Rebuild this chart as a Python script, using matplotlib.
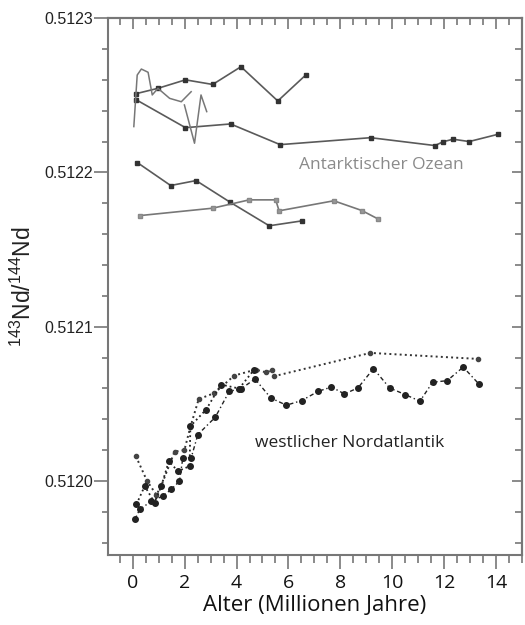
import matplotlib
matplotlib.use("Agg")
import matplotlib.pyplot as plt
from matplotlib.ticker import MultipleLocator, FormatStrFormatter, NullFormatter

plt.rcParams['mathtext.default'] = 'regular'

# ---------------- data ----------------
# Antarctic Ocean series
ant_a_x = [0.12, 0.97, 2.03, 3.08, 4.17, 5.59, 6.66]
ant_a_y = [0.512251, 0.5122545, 0.512260, 0.512257, 0.5122685, 0.5122463, 0.512263]

ant_b_x = [0.14, 2.03, 3.77, 5.68, 9.17, 11.65, 11.97, 12.35, 12.97, 14.08]
ant_b_y = [0.512247, 0.512229, 0.5122314, 0.512218, 0.5122225, 0.5122174, 0.5122199, 0.5122215, 0.512220, 0.5122247]

ant_c_x = [0.18, 1.46, 2.44, 3.75, 5.26, 6.53]
ant_c_y = [0.5122063, 0.5121915, 0.5121947, 0.5121807, 0.5121654, 0.5121686]

ant_d_x = [0.27, 3.08, 4.49, 5.51, 5.64, 7.75, 8.83, 9.47]
ant_d_y = [0.5121720, 0.5121768, 0.5121822, 0.5121822, 0.5121751, 0.5121816, 0.5121753, 0.5121697]

ant_e_x = [0.04, 0.17, 0.33, 0.59, 0.75, 0.97, 1.42, 1.87, 2.25]
ant_e_y = [0.5122297, 0.5122631, 0.5122670, 0.5122649, 0.5122502, 0.5122545, 0.512248, 0.5122458, 0.5122523]

ant_f_x = [1.99, 2.38, 2.63, 2.85]
ant_f_y = [0.5122437, 0.5122189, 0.5122502, 0.5122394]

# Western North Atlantic series
nat_a_x = [0.12, 0.55, 0.91, 1.10, 1.61, 1.99, 2.22, 2.54, 3.15, 3.91, 4.74, 5.13, 5.38, 5.45, 9.16, 13.31]
nat_a_y = [0.512016, 0.512000, 0.511991, 0.511997, 0.512019, 0.512020, 0.512035, 0.512053, 0.512057,
           0.5120683, 0.5120722, 0.5120704, 0.5120717, 0.5120679, 0.512083, 0.5120791]

nat_b_x = [0.08, 0.27, 0.72, 1.16, 1.48, 1.80, 1.93, 2.25, 2.51, 3.18, 3.72, 4.17, 4.71, 5.32, 5.92, 6.51,
           7.15, 7.66, 8.16, 8.68, 9.28, 9.90, 10.50, 11.07, 11.56, 12.12, 12.74, 13.34]
nat_b_y = [0.5119751, 0.5119816, 0.5119869, 0.5119902, 0.5119945, 0.5119999, 0.5120150, 0.5120150,
           0.5120301, 0.5120413, 0.5120581, 0.5120597, 0.5120661, 0.5120538, 0.5120491, 0.5120521,
           0.5120581, 0.5120609, 0.5120564, 0.5120603, 0.5120728, 0.5120603, 0.5120560, 0.5120517,
           0.5120640, 0.5120650, 0.5120738, 0.5120629]

nat_c_x = [0.14, 0.46, 0.84, 1.10, 1.39, 1.74, 2.19, 2.22, 2.83, 3.40, 4.10, 4.68]
nat_c_y = [0.5119848, 0.5119967, 0.5119859, 0.5119967, 0.5120128, 0.5120063, 0.5120096, 0.5120355,
           0.5120463, 0.5120625, 0.5120599, 0.5120722]

x_ticks = [0, 2, 4, 6, 8, 10, 12, 14]
y_ticks = [0.5120, 0.5121, 0.5122, 0.5123]

# ---------------- plot ----------------
fig = plt.figure(figsize=(5.25, 6.25), dpi=100)
ax = fig.add_axes([0.206, 0.112, 0.788, 0.859])

g = '#5a5a5a'
ax.plot(ant_a_x, ant_a_y, '-', color=g, lw=1.2, marker='s', ms=3.5, mfc='#333333', mec='#333333')
ax.plot(ant_b_x, ant_b_y, '-', color=g, lw=1.2, marker='s', ms=3.5, mfc='#333333', mec='#333333')
ax.plot(ant_c_x, ant_c_y, '-', color=g, lw=1.2, marker='s', ms=3.5, mfc='#333333', mec='#333333')
ax.plot(ant_d_x, ant_d_y, '-', color='#777777', lw=1.2, marker='s', ms=3.2, mfc='#999999', mec='#888888')
ax.plot(ant_e_x, ant_e_y, '-', color='#777777', lw=1.1)
ax.plot(ant_f_x, ant_f_y, '-', color='#777777', lw=1.1)

ax.plot(nat_a_x, nat_a_y, ':', color='#333333', lw=1.4, marker='o', ms=3, mfc='#444444', mec='#444444')
ax.plot(nat_b_x, nat_b_y, '-.', color='#222222', lw=1.0, marker='o', ms=4, mfc='#222222', mec='#222222',
        dashes=(3, 2, 1, 2))
ax.plot(nat_c_x, nat_c_y, ':', color='#222222', lw=1.3, marker='o', ms=4, mfc='#222222', mec='#222222')

ax.text(6.4, 0.5122049, 'Antarktischer Ozean', color='#8a8a8a', fontsize=12.5,
        family='Open Sans', va='center', ha='left')
ax.text(4.72, 0.5120249, 'westlicher Nordatlantik', color='#222222', fontsize=12.5,
        family='Open Sans', va='center', ha='left')

ax.set_xlim(-0.95, 15.0)
ax.set_ylim(0.511952, 0.5123)

ax.set_xticks(x_ticks)
ax.set_yticks(y_ticks)
ax.xaxis.set_minor_locator(MultipleLocator(0.5))
ax.yaxis.set_minor_locator(MultipleLocator(0.00002))
ax.yaxis.set_major_formatter(FormatStrFormatter('%.4f'))

for s in ax.spines.values():
    s.set_color('#777777')
    s.set_linewidth(1.5)

tc = '#777777'
ax.tick_params(axis='x', which='both', direction='out', color=tc, width=1.2)
ax.tick_params(axis='x', which='major', length=10, labelsize=14, pad=4)
ax.tick_params(axis='x', which='minor', length=5.5)
ax.tick_params(axis='y', which='both', direction='out', color=tc, width=1.2)
ax.tick_params(axis='y', which='major', length=10, labelsize=11.5, pad=1)
ax.tick_params(axis='y', which='minor', length=4.5)

# inward ticks on top and right
top = ax.secondary_xaxis('top')
top.set_xticks(x_ticks)
top.xaxis.set_minor_locator(MultipleLocator(0.5))
top.xaxis.set_major_formatter(NullFormatter())
top.tick_params(axis='x', which='both', direction='in', color=tc, width=1.2)
top.tick_params(axis='x', which='major', length=8)
top.tick_params(axis='x', which='minor', length=5)
top.spines['top'].set_color(tc)
top.spines['top'].set_linewidth(1.5)

right = ax.secondary_yaxis('right')
right.set_yticks(y_ticks)
right.yaxis.set_minor_locator(MultipleLocator(0.00002))
right.yaxis.set_major_formatter(NullFormatter())
right.tick_params(axis='y', which='both', direction='in', color=tc, width=1.2)
right.tick_params(axis='y', which='major', length=7)
right.tick_params(axis='y', which='minor', length=5)
right.spines['right'].set_color(tc)
right.spines['right'].set_linewidth(1.5)

for lab in ax.get_xticklabels():
    lab.set_family('Open Sans')
    lab.set_color('#111111')
for lab in ax.get_yticklabels():
    lab.set_family('Liberation Sans')
    lab.set_color('#222222')

ax.set_xlabel('Alter (Millionen Jahre)', fontsize=16, family='Open Sans', color='#111111', labelpad=2)
ax.set_ylabel(r'$^{143}$Nd/$^{144}$Nd', fontsize=16.5, family='Liberation Sans', color='#222222')
ax.yaxis.set_label_coords(-0.175, 0.50)

fig.savefig('out.png', dpi=100)
